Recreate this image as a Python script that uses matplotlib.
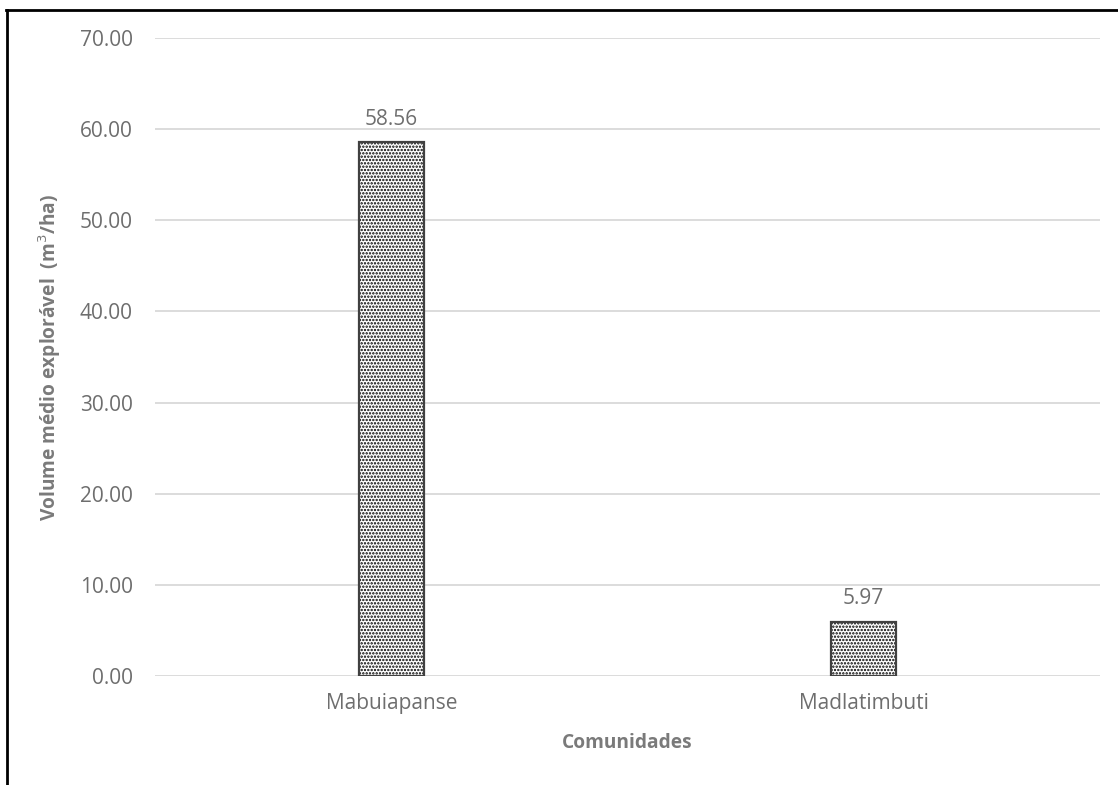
import matplotlib
matplotlib.use("Agg")
import matplotlib.pyplot as plt
from matplotlib.lines import Line2D

# data
comunidades = ["Mabuiapanse", "Madlatimbuti"]
volume = [58.56, 5.97]
yticks = [0, 10, 20, 30, 40, 50, 60, 70]

GREY = "#6e6e6e"
LABEL_GREY = "#7a7a7a"
plt.rcParams["font.family"] = ["Open Sans", "DejaVu Sans"]
plt.rcParams["hatch.linewidth"] = 1.15

fig = plt.figure(figsize=(11.18, 7.85), dpi=100)
ax = fig.add_axes((155 / 1118, 1 - 676 / 785, 945 / 1118, (676 - 38) / 785))

x = range(len(comunidades))
# hatch layer, then the outline on top
ax.bar(x, volume, width=0.138, color="white", edgecolor="black", hatch=".....", linewidth=0, zorder=3)
ax.bar(x, volume, width=0.138, fill=False, edgecolor="#404040", linewidth=1.6, zorder=4)

for xi, v in zip(x, volume):
    ax.annotate(f"{v:.2f}", (xi, v), xytext=(0, 9), textcoords="offset points",
                ha="center", va="bottom", fontsize=15, color=GREY)

ax.set_xlim(-0.5, 1.5)
ax.set_ylim(0, 70)
ax.set_yticks(yticks)
ax.set_yticklabels([f"{t:.2f}" for t in yticks])
ax.set_xticks(list(x))
ax.set_xticklabels(comunidades)
ax.tick_params(axis="both", length=0, labelsize=15, labelcolor=GREY)
ax.tick_params(axis="y", pad=16)
ax.tick_params(axis="x", pad=12)
ax.grid(axis="y", color="#d9d9d9", linewidth=1.3, zorder=0)
ax.set_axisbelow(True)
for s in ax.spines.values():
    s.set_visible(False)

ax.set_ylabel("Volume médio explorável  (m$^3$/ha)", fontsize=13.8, fontweight="bold",
              color=LABEL_GREY, labelpad=12)
ax.set_xlabel("Comunidades", fontsize=13.8, fontweight="bold", color=LABEL_GREY, labelpad=14)

# outer frame (only top and left visible in the crop)
fig.add_artist(Line2D([7 / 1118, 7 / 1118], [0, 1 - 9.5 / 785], color="black", linewidth=2,
                      transform=fig.transFigure))
fig.add_artist(Line2D([6 / 1118, 1], [1 - 9.5 / 785, 1 - 9.5 / 785], color="black", linewidth=2,
                      transform=fig.transFigure))

fig.savefig("out.png", dpi=100, facecolor="white")
